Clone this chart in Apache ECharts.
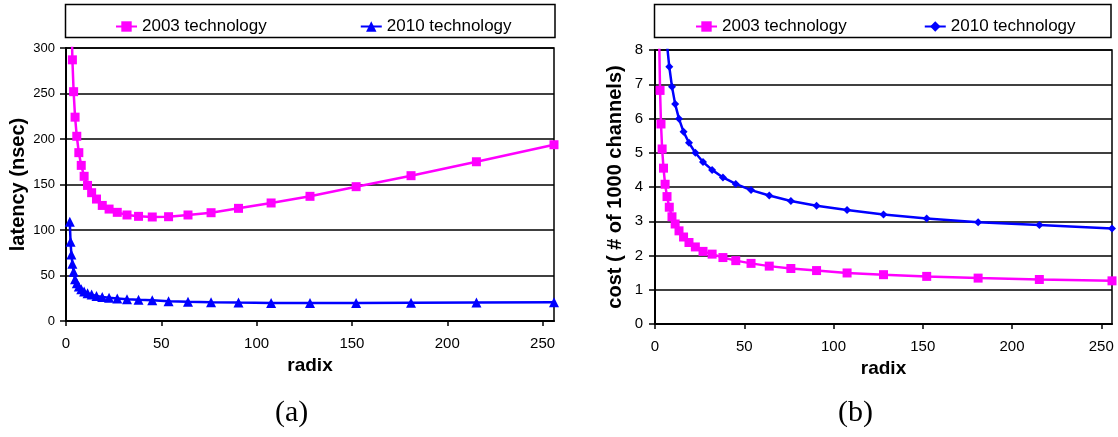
<!DOCTYPE html>
<html>
<head>
<meta charset="utf-8">
<script src="https://cdn.jsdelivr.net/npm/echarts@6/dist/echarts.min.js"></script>
<style>
html,body{margin:0;padding:0;background:#fff;}
#chart{width:1118px;height:437px;}
</style>
</head>
<body>
<div id="chart"></div>
<script>
// radix values (x positions of the points)
const radix = [2, 2.38, 2.83, 3.36, 4, 4.76, 5.66, 6.73, 8, 9.51, 11.3, 13.45, 16, 19.03, 22.6, 26.9, 32, 38.05, 45.25, 53.8, 64, 76.1, 90.5, 107.6, 128, 152.2, 181, 215.3, 256];
// (a) latency in nsec
const latency2003 = [500, 410, 336, 287, 252, 224, 203, 185, 171, 159, 149, 141, 134, 127, 123, 119.4, 116.5, 115, 114.3, 114.6, 116.5, 119, 123.8, 129.7, 137, 147.6, 159.7, 175, 193.7];
const latency2010 = [109, 87, 73, 63, 54, 46, 41.5, 38, 35, 32.5, 30.5, 29, 27.5, 26.5, 25.5, 24.8, 24, 23.3, 22.7, 21.8, 21.2, 20.6, 20.2, 19.8, 19.8, 19.9, 20.1, 20.4, 20.7];
// (b) cost in # of 1000 channels
const cost2003 = [10.2, 8.2, 6.82, 5.84, 5.11, 4.55, 4.08, 3.72, 3.41, 3.13, 2.92, 2.72, 2.54, 2.38, 2.25, 2.12, 2.04, 1.94, 1.85, 1.77, 1.69, 1.62, 1.56, 1.49, 1.44, 1.39, 1.34, 1.30, 1.26];
const cost2010 = [22.5, 18, 15, 12.9, 11.3, 10, 9.0, 8.16, 7.51, 6.93, 6.42, 5.99, 5.61, 5.29, 5.0, 4.73, 4.5, 4.28, 4.09, 3.91, 3.75, 3.59, 3.45, 3.33, 3.20, 3.08, 2.97, 2.89, 2.79];
// axis tick settings
const xTicks = {min: 0, max: 256, interval: 50};
const latencyTicks = {min: 0, max: 300, interval: 50};
const costTicks = {min: 0, max: 8, interval: 1};
const seriesNames = ['2003 technology', '2010 technology'];
const panelLabels = ['(a)', '(b)'];

const PINK = '#FF00FF', BLUE = '#0000FF';
const zip = (xs, ys) => xs.map((x, i) => [x, ys[i]]);

function xAxisOf(grid, gap) {
  return {
    type: 'value', gridIndex: grid, min: xTicks.min, max: xTicks.max, interval: xTicks.interval,
    name: 'radix', nameLocation: 'middle', nameGap: gap,
    nameTextStyle: {fontFamily: 'Liberation Sans', fontWeight: 'bold', fontSize: 19, color: '#000'},
    axisLine: {show: true, lineStyle: {color: '#000', width: 2}},
    axisTick: {show: true, length: 5, lineStyle: {color: '#000', width: 1.5}},
    axisLabel: {fontFamily: 'Liberation Sans', fontSize: 15, color: '#000', margin: 15, showMaxLabel: false},
    splitLine: {show: false}
  };
}
function yAxisOf(grid, ticks, name, gap, margin, labelSize) {
  return {
    type: 'value', gridIndex: grid, min: ticks.min, max: ticks.max, interval: ticks.interval,
    name: name, nameLocation: 'middle', nameGap: gap, nameRotate: 90,
    nameTextStyle: {fontFamily: 'Liberation Sans', fontWeight: 'bold', fontSize: 20, color: '#000'},
    axisLine: {show: true, lineStyle: {color: '#000', width: 2}},
    axisTick: {show: true, length: 6, lineStyle: {color: '#000', width: 1.5}},
    axisLabel: {fontFamily: 'Liberation Sans', fontSize: labelSize, color: '#000', margin: margin},
    splitLine: {show: true, lineStyle: {color: '#000', width: 1.5}}
  };
}
function lineSeries(name, xi, yi, data, color, symbol, size) {
  return {
    name: name, type: 'line', xAxisIndex: xi, yAxisIndex: yi, data: data,
    symbol: symbol, symbolSize: size, showSymbol: true, clip: true,
    lineStyle: {color: color, width: 2.5}, itemStyle: {color: color},
    animation: false, z: 3
  };
}

const chart = echarts.init(document.getElementById('chart'), null, {renderer: 'canvas'});
chart.setOption({
  backgroundColor: '#fff',
  animation: false,
  grid: [
    {left: 66, top: 48, width: 488, height: 273, show: true, borderColor: '#000', borderWidth: 1.5, backgroundColor: 'transparent'},
    {left: 655, top: 50, width: 457, height: 274, show: true, borderColor: '#000', borderWidth: 1.5, backgroundColor: 'transparent'}
  ],
  xAxis: [xAxisOf(0, 35), xAxisOf(1, 34)],
  yAxis: [
    yAxisOf(0, latencyTicks, 'latency (nsec)', 38, 11, 13),
    yAxisOf(1, costTicks, 'cost ( # of 1000 channels)', 30, 12, 15)
  ],
  legend: [
    {
      left: 110, top: 13, itemWidth: 21, itemHeight: 13, itemGap: 93,
      data: [seriesNames[0], seriesNames[1]],
      textStyle: {fontFamily: 'Liberation Sans', fontSize: 17, color: '#000'},
      selectedMode: false
    },
    {
      left: 690, top: 13, itemWidth: 21, itemHeight: 13, itemGap: 77,
      data: [seriesNames[0] + ' ', seriesNames[1] + ' '],
      formatter: n => n.trim(),
      textStyle: {fontFamily: 'Liberation Sans', fontSize: 17, color: '#000'},
      selectedMode: false
    }
  ],
  graphic: [
    {type: 'rect', z: -1, shape: {x: 65.5, y: 4.5, width: 489.5, height: 33}, style: {fill: '#fff', stroke: '#000', lineWidth: 1.5}},
    {type: 'rect', z: -1, shape: {x: 654.5, y: 4.5, width: 456.5, height: 33}, style: {fill: '#fff', stroke: '#000', lineWidth: 1.5}},
    {type: 'text', left: 275, top: 398, style: {text: panelLabels[0], font: '30px "Liberation Serif"', fill: '#000'}},
    {type: 'text', left: 838, top: 398, style: {text: panelLabels[1], font: '30px "Liberation Serif"', fill: '#000'}}
  ],
  series: [
    lineSeries(seriesNames[0], 0, 0, zip(radix, latency2003), PINK, 'rect', 9),
    lineSeries(seriesNames[1], 0, 0, zip(radix, latency2010), BLUE, 'triangle', 10),
    lineSeries(seriesNames[0] + ' ', 1, 1, zip(radix, cost2003), PINK, 'rect', 9),
    lineSeries(seriesNames[1] + ' ', 1, 1, zip(radix, cost2010), BLUE, 'diamond', 8)
  ]
});
</script>
</body>
</html>
